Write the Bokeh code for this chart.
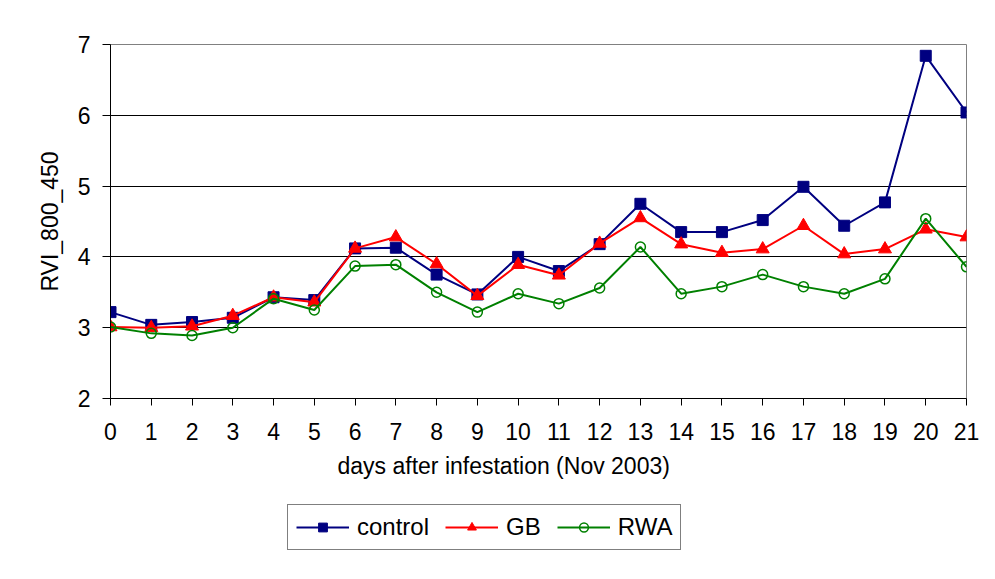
from bokeh.plotting import figure
from bokeh.layouts import column
from bokeh.models import Range1d, FixedTicker, Legend, LegendItem, Title
from bokeh.embed import file_html
from bokeh.resources import INLINE

days = list(range(22))
control = [3.22, 3.04, 3.08, 3.14, 3.43, 3.39, 4.12, 4.13, 3.75, 3.47, 4.00, 3.80,
           4.18, 4.75, 4.35, 4.35, 4.52, 4.99, 4.44, 4.77, 6.84, 6.04]
gb = [3.01, 3.00, 3.02, 3.17, 3.43, 3.36, 4.12, 4.28, 3.90, 3.45, 3.89, 3.74,
      4.19, 4.55, 4.18, 4.06, 4.11, 4.44, 4.04, 4.11, 4.39, 4.28]
rwa = [3.01, 2.92, 2.89, 3.00, 3.41, 3.25, 3.87, 3.89, 3.50, 3.22, 3.48, 3.34,
       3.56, 4.14, 3.48, 3.58, 3.75, 3.58, 3.48, 3.69, 4.54, 3.86]
y_ticks = [2, 3, 4, 5, 6, 7]
x_title = "days after infestation (Nov 2003)"
y_title = "RVI_800_450"
series_names = ["control", "GB", "RWA"]

FONT = "Liberation Sans"
FS = "23px"

STYLES = [
    dict(color="#000080", marker="square", size=11, fill="#000080", mlw=1),
    dict(color="#FF0000", marker="triangle", size=13, fill="#FF0000", mlw=1),
    dict(color="#008000", marker="circle", size=10, fill=None, mlw=1.5),
]

p = figure(width=979, height=500, output_backend="svg", toolbar_location=None,
           x_range=Range1d(0, 21), y_range=Range1d(2, 7),
           min_border_left=110, min_border_right=13, min_border_top=44,
           min_border_bottom=102)

p.outline_line_color = "#808080"
p.outline_line_width = 1
p.background_fill_color = "white"
p.border_fill_color = "white"

p.xgrid.visible = False
p.ygrid.ticker = FixedTicker(ticks=y_ticks)
p.ygrid.grid_line_color = "black"
p.ygrid.grid_line_width = 1

p.xaxis.ticker = FixedTicker(ticks=days)
p.yaxis.ticker = FixedTicker(ticks=y_ticks)
for ax in (p.xaxis, p.yaxis):
    ax.axis_line_color = "black"
    ax.axis_line_width = 1
    ax.major_tick_line_color = "black"
    ax.major_tick_in = 0
    ax.minor_tick_line_color = None
    ax.major_label_text_font = FONT
    ax.major_label_text_font_size = FS
    ax.major_label_text_color = "black"
    ax.axis_label_text_font = FONT
    ax.axis_label_text_font_size = FS
    ax.axis_label_text_font_style = "normal"
    ax.axis_label_text_color = "black"

p.xaxis.major_tick_out = 7
p.yaxis.major_tick_out = 8
p.xaxis.major_label_standoff = 17
p.yaxis.major_label_standoff = 12
p.yaxis.axis_label = y_title
p.yaxis.axis_label_standoff = 12

# x-axis title, centred on the chart area (left of the plot-area centre) as in the original
xt = Title(text=x_title, align="left", offset=227, text_font=FONT,
           text_font_size=FS, text_font_style="normal", text_color="black",
           standoff=17)
p.add_layout(xt, "below")

for vals, st in zip([control, gb, rwa], STYLES):
    p.line(days, vals, line_color=st["color"], line_width=2)
    p.scatter(days, vals, marker=st["marker"], size=st["size"],
              fill_color=st["fill"], line_color=st["color"], line_width=st["mlw"])

# legend strip below the chart
q = figure(width=979, height=63, output_backend="svg", toolbar_location=None,
           x_axis_type=None, y_axis_type=None, min_border=0,
           x_range=Range1d(0, 1), y_range=Range1d(0, 1))
q.outline_line_color = None
q.xgrid.visible = False
q.ygrid.visible = False
q.background_fill_color = "white"
q.border_fill_color = "white"

items = []
for name, st in zip(series_names, STYLES):
    lr = q.line([-100, -99], [-100, -100], line_color=st["color"], line_width=2)
    mr = q.scatter([-100], [-100], marker=st["marker"], size=st["size"],
                   fill_color=st["fill"], line_color=st["color"], line_width=st["mlw"])
    items.append(LegendItem(label=name, renderers=[lr, mr]))

legend = Legend(items=items, location=(177, 13), orientation="horizontal")
legend.label_text_font = FONT
legend.label_text_font_size = "24px"
legend.label_text_color = "black"
legend.glyph_width = 53
legend.glyph_height = 22
legend.label_standoff = 8
legend.spacing = 16
legend.padding = 8
legend.margin = 0
legend.border_line_color = "black"
legend.border_line_width = 1
legend.background_fill_color = "white"
legend.background_fill_alpha = 1
q.add_layout(legend, "center")

layout = column(p, q, spacing=0)
open("out.html", "w").write(file_html(layout, INLINE))
